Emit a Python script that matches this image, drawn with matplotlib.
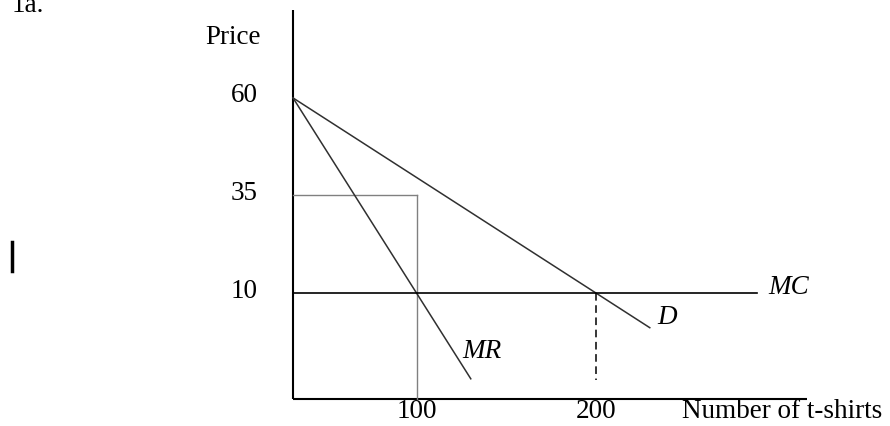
import matplotlib
matplotlib.use('Agg')
import matplotlib.pyplot as plt
from matplotlib.lines import Line2D

plt.rcParams['font.family'] = ['Liberation Serif', 'DejaVu Serif']

# axis end points (quantity, price) as drawn
q0 = 30.7          # where the price axis sits
p0 = -17.2         # where the quantity axis sits
q_axis_end = 318
p_axis_end = 82.6

price_ticks = [60, 35, 10]
qty_ticks = [100, 200]

demand_q = [q0, 230]
demand_p = [60, 1.1]
mr_q = [q0, 130]
mr_p = [60, -12]
mc_q = [q0, 290]
mc_p = [10, 10]

monopoly_q = 100
monopoly_p = 35
competitive_q = 200
dash_bottom = -12.3

fs = 19.5

fig = plt.figure(figsize=(8.9, 4.26), dpi=100)
ax = fig.add_axes([0, 0, 1, 1])
ax.set_xlim(-133, 364.2)
ax.set_ylim(-24.1, 85.1)
ax.axis('off')

# axes
ax.plot([q0, q0], [p0, p_axis_end], color='black', lw=1.5, solid_capstyle='butt')
ax.plot([q0, q_axis_end], [p0, p0], color='black', lw=1.5, solid_capstyle='butt')

# monopoly box (grey)
ax.plot([q0, monopoly_q], [monopoly_p, monopoly_p], color='#808080', lw=1.0)
ax.plot([monopoly_q, monopoly_q], [monopoly_p, p0], color='#808080', lw=1.0)

# curves
ax.plot(demand_q, demand_p, color='#303030', lw=1.1)
ax.plot(mr_q, mr_p, color='#303030', lw=1.1)
ax.plot(mc_q, mc_p, color='black', lw=1.2)
ax.plot([competitive_q, competitive_q], [10, dash_bottom], color='black', lw=1.1,
        linestyle=(0, (5, 3)))

# labels
ax.text(-2.8, 75.4, 'Price', fontsize=fs, ha='center', va='center')
for p in price_ticks:
    ax.text(11, p + 0.5, str(p), fontsize=fs, ha='right', va='center')
for q in qty_ticks:
    ax.text(q, -20.5, str(q), fontsize=fs, ha='center', va='center')
ax.text(248, -20.5, 'Number of t-shirts', fontsize=fs, ha='left', va='center')
ax.text(296, 11.3, 'MC', fontsize=fs, style='italic', ha='left', va='center')
ax.text(234, 3.6, 'D', fontsize=fs, style='italic', ha='left', va='center')
ax.text(125, -5.1, 'MR', fontsize=fs, style='italic', ha='left', va='center')

fig.text(12 / 890, 1 - 5 / 426, '1a.', fontsize=fs, ha='left', va='center')
fig.add_artist(Line2D([12 / 890, 12 / 890], [1 - 242 / 426, 1 - 271 / 426],
                      color='black', lw=2.5, transform=fig.transFigure))

fig.savefig('out.png', dpi=100)
plt.close(fig)
